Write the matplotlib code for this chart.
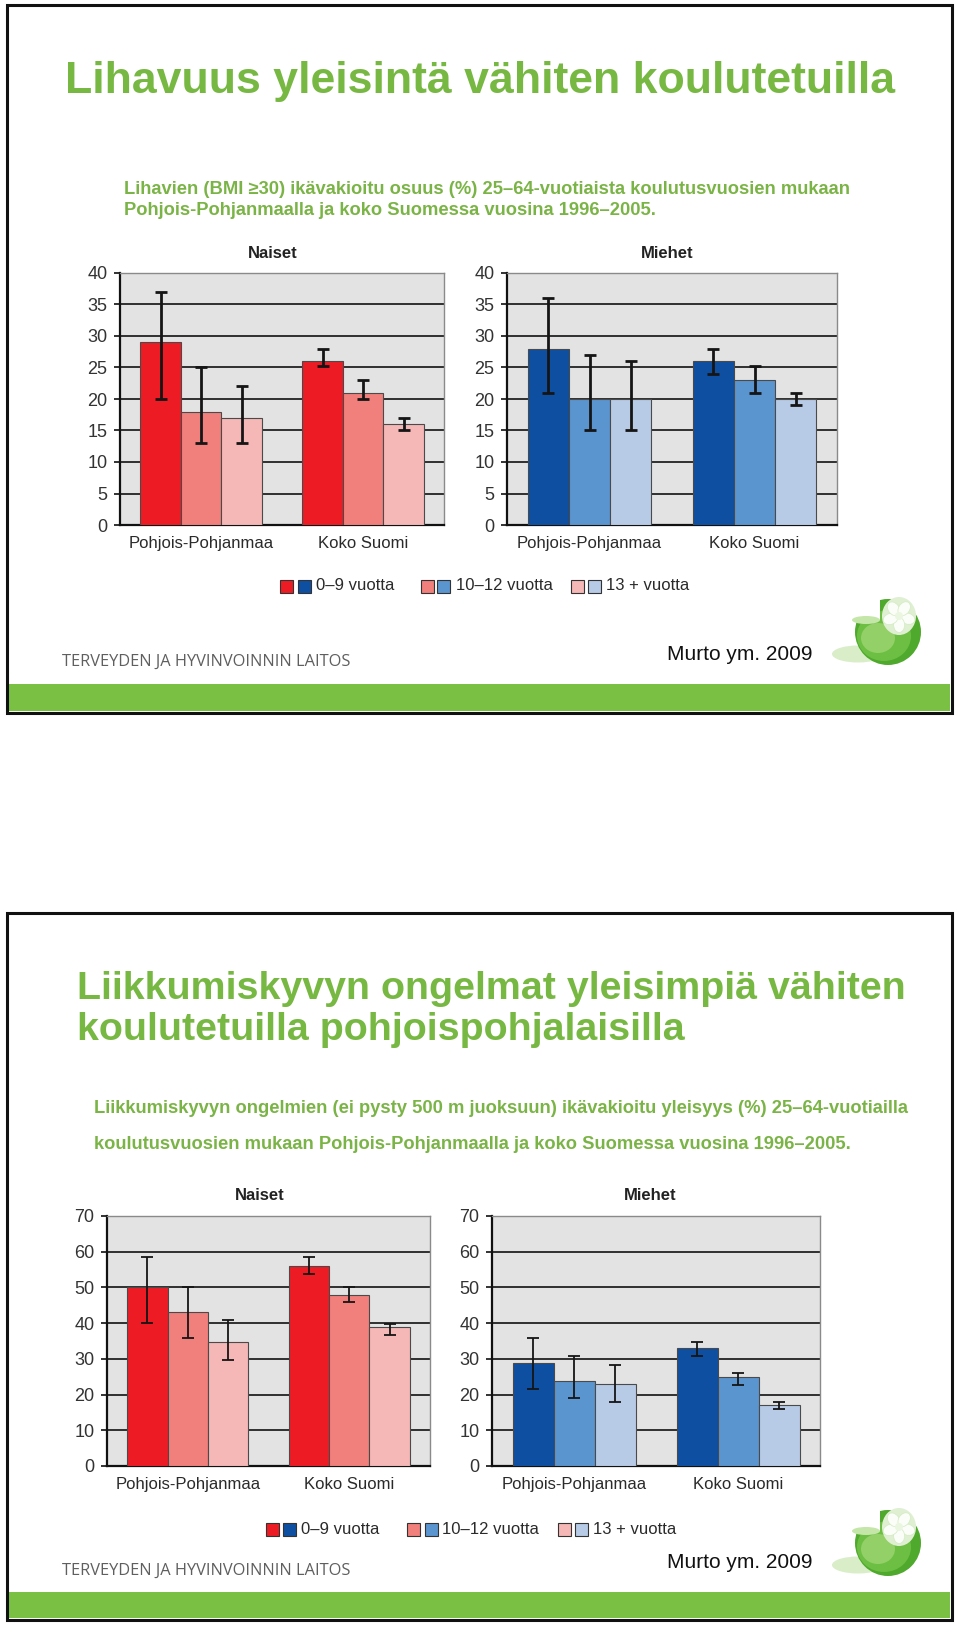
import matplotlib
matplotlib.use('Agg')
import matplotlib.pyplot as plt
from matplotlib.patches import Rectangle, Ellipse, Circle
import numpy as np

plt.rcParams['font.family'] = ['Liberation Sans', 'DejaVu Sans']

W, H = 960, 1625

# ---------------- data ----------------
categories = ['Pohjois-Pohjanmaa', 'Koko Suomi']
edu_groups = ['0–9 vuotta', '10–12 vuotta', '13 + vuotta']
panel_titles = ['Naiset', 'Miehet']

# rows = education group, columns = category
obes_women = [[29, 26], [18, 21], [17, 16]]
obes_women_lo = [[20, 25.2], [13, 20], [13, 15]]
obes_women_hi = [[37, 28], [25, 23], [22, 17]]
obes_men = [[28, 26], [20, 23], [20, 20]]
obes_men_lo = [[21, 24], [15, 21], [15, 19]]
obes_men_hi = [[36, 28], [27, 25.2], [26, 21]]

mob_women = [[50, 56], [43, 48], [34.6, 38.8]]
mob_women_lo = [[40, 53.8], [35.9, 45.9], [29.7, 36.7]]
mob_women_hi = [[58.5, 58.5], [50, 50], [40.9, 39.9]]
mob_men = [[28.8, 33], [23.9, 24.9], [23, 17]]
mob_men_lo = [[21.7, 30.8], [19, 22.7], [17.8, 16.1]]
mob_men_hi = [[35.9, 34.6], [30.8, 26.1], [28.2, 17.8]]

title1 = 'Lihavuus yleisintä vähiten koulutetuilla'
subtitle1 = ['Lihavien (BMI ≥30) ikävakioitu osuus (%) 25–64-vuotiaista koulutusvuosien mukaan',
             'Pohjois-Pohjanmaalla ja koko Suomessa vuosina 1996–2005.']
title2 = ['Liikkumiskyvyn ongelmat yleisimpiä vähiten',
          'koulutetuilla pohjoispohjalaisilla']
subtitle2 = ['Liikkumiskyvyn ongelmien (ei pysty 500 m juoksuun) ikävakioitu yleisyys (%) 25–64-vuotiailla',
             'koulutusvuosien mukaan Pohjois-Pohjanmaalla ja koko Suomessa vuosina 1996–2005.']
org_name = 'TERVEYDEN JA HYVINVOINNIN LAITOS'
source = 'Murto ym. 2009'

reds = ['#ED1C24', '#F17F7B', '#F5B8B6']
blues = ['#0E4FA1', '#5B95D0', '#B7CBE6']
GREEN_T = '#77B843'
GREEN_S = '#7BB446'
GREEN_BAR = '#7AC143'

# ---------------- figure ----------------
fig = plt.figure(figsize=(W / 100, H / 100), dpi=100)
fig.patch.set_facecolor('white')
ov = fig.add_axes([0, 0, 1, 1], zorder=0)
ov.set_xlim(0, W)
ov.set_ylim(H, 0)
ov.axis('off')
renderer = fig.canvas.get_renderer()


def fit_text(x, y, s, width, fs0=20, **kw):
    t = ov.text(x, y, s, fontsize=fs0, **kw)
    bb = t.get_window_extent(renderer)
    t.set_fontsize(fs0 * width / bb.width)
    return t


def px_axes(left, top, right, bottom):
    return fig.add_axes([left / W, 1 - bottom / H, (right - left) / W, (bottom - top) / H], zorder=2)


def chart(box, vals, lo, hi, colors, ymax, ystep, elw):
    ax = px_axes(*box)
    ax.set_facecolor('#E3E3E3')
    x = np.arange(len(categories))
    bw = 0.25
    for i, (v, l, h, c) in enumerate(zip(vals, lo, hi, colors)):
        v = np.array(v, float)
        l = np.array(l, float)
        h = np.array(h, float)
        ax.bar(x + (i - 1) * bw, v, bw, color=c, edgecolor='#4a4a4a', linewidth=0.8, zorder=3,
               yerr=[v - l, h - v],
               error_kw=dict(ecolor='#151515', elinewidth=elw, capsize=4.5, capthick=elw, zorder=4))
    ax.set_xlim(-0.5, 1.5)
    ax.set_ylim(0, ymax)
    ax.set_yticks(np.arange(0, ymax + 1, ystep))
    ax.set_axisbelow(True)
    ax.yaxis.grid(True, color='#111111', lw=1.2)
    ax.set_xticks(x)
    ax.set_xticklabels(categories)
    ax.tick_params(axis='x', length=0, pad=8, labelsize=12, labelcolor='#2a2a2a')
    ax.tick_params(axis='y', length=4, width=1.2, pad=5, labelsize=13, labelcolor='#333333',
                   direction='out', color='#111111')
    for s in ['left', 'bottom']:
        ax.spines[s].set_color('#111111')
        ax.spines[s].set_linewidth(1.6)
    for s in ['top', 'right']:
        ax.spines[s].set_color('#8a8a8a')
        ax.spines[s].set_linewidth(1.0)
    return ax


def legend(y, xs):
    for (xr, xb, xt), lab, cr, cb in zip(xs, edu_groups, reds, blues):
        ov.add_patch(Rectangle((xr, y - 6.5), 13, 13, facecolor=cr, edgecolor='#333333', lw=0.8))
        ov.add_patch(Rectangle((xb, y - 6.5), 13, 13, facecolor=cb, edgecolor='#333333', lw=0.8))
        ov.text(xt, y, lab, fontsize=12, color='#2a2a2a', va='center', ha='left')


def logo(cx, cy):
    # soft shadow
    ov.add_patch(Ellipse((cx - 30, cy + 22), 52, 17, facecolor='#d9eec8', edgecolor='none'))
    # glass bowl
    ov.add_patch(Circle((cx, cy), 33, facecolor='#4FA92C', edgecolor='none'))
    ov.add_patch(Ellipse((cx - 4, cy + 4), 54, 50, facecolor='#6CBF43', edgecolor='none'))
    ov.add_patch(Ellipse((cx - 10, cy + 6), 34, 30, facecolor='#93D067', edgecolor='none'))
    # cut-away upper-left
    ov.add_patch(Rectangle((cx - 36, cy - 36), 28, 24, facecolor='white', edgecolor='none'))
    ov.add_patch(Ellipse((cx - 22, cy - 12), 28, 8, facecolor='#c4e6a8', edgecolor='none'))
    # flower
    fx, fy = cx + 11, cy - 16
    ov.add_patch(Ellipse((fx, fy), 34, 38, facecolor='#dff0d2', edgecolor='none'))
    for ang in np.linspace(0, 2 * np.pi, 6)[:-1] + 0.3:
        ov.add_patch(Ellipse((fx + 9 * np.cos(ang), fy + 9 * np.sin(ang)), 15, 11,
                             angle=np.degrees(ang), facecolor='#fbfdf8', edgecolor='#d3ebc1', lw=0.5))
    ov.add_patch(Circle((fx, fy), 4, facecolor='#eaf6e0', edgecolor='none'))


def slide_frame(top, bottom, bar_top, bar_bottom):
    ov.add_patch(Rectangle((9, bar_top), 941, bar_bottom - bar_top, facecolor=GREEN_BAR, edgecolor='none'))
    ov.add_patch(Rectangle((7, top), 945, bottom - top, facecolor='none', edgecolor='#111111', lw=2.2))


# ---------------- slide 1 ----------------
slide_frame(5, 713, 684, 711)
fit_text(65, 93, title1, 829, color=GREEN_T, fontweight='bold', va='baseline')
t = fit_text(124, 194, subtitle1[0], 725, color=GREEN_S, fontweight='bold', va='baseline')
ov.text(124, 215, subtitle1[1], fontsize=t.get_fontsize(), color=GREEN_S, fontweight='bold', va='baseline')

chart((120, 273, 444, 525), obes_women, obes_women_lo, obes_women_hi, reds, 40, 5, 2.0)
chart((507, 273, 837, 525), obes_men, obes_men_lo, obes_men_hi, blues, 40, 5, 2.0)
ov.text(273, 253, panel_titles[0], fontsize=12, fontweight='bold', color='#222222', ha='center', va='center')
ov.text(667, 253, panel_titles[1], fontsize=12, fontweight='bold', color='#222222', ha='center', va='center')
legend(586, [(280, 298, 316), (421, 437, 456), (571, 588, 606)])

fit_text(62, 662, org_name, 288, family=['Open Sans', 'DejaVu Sans'], color='#5f5f5f', va='center')
fit_text(667, 655, source, 145, color='#111111', va='center')
logo(888, 632)

# ---------------- slide 2 ----------------
slide_frame(913, 1620, 1592, 1618)
t = fit_text(77, 999, title2[0], 827, color=GREEN_T, fontweight='bold', va='baseline')
ov.text(77, 1040, title2[1], fontsize=t.get_fontsize(), color=GREEN_T, fontweight='bold', va='baseline')
t = fit_text(94, 1113, subtitle2[0], 814, color=GREEN_S, fontweight='bold', va='baseline')
ov.text(94, 1149, subtitle2[1], fontsize=t.get_fontsize(), color=GREEN_S, fontweight='bold', va='baseline')

chart((107, 1216, 430, 1466), mob_women, mob_women_lo, mob_women_hi, reds, 70, 10, 1.3)
chart((492, 1216, 820, 1466), mob_men, mob_men_lo, mob_men_hi, blues, 70, 10, 1.3)
ov.text(260, 1195, panel_titles[0], fontsize=12, fontweight='bold', color='#222222', ha='center', va='center')
ov.text(650, 1195, panel_titles[1], fontsize=12, fontweight='bold', color='#222222', ha='center', va='center')
legend(1529, [(266, 283, 301), (407, 425, 442), (558, 575, 593)])

fit_text(62, 1571, org_name, 288, family=['Open Sans', 'DejaVu Sans'], color='#5f5f5f', va='center')
fit_text(667, 1563, source, 145, color='#111111', va='center')
logo(888, 1543)

fig.savefig('out.png', dpi=100, facecolor='white')
